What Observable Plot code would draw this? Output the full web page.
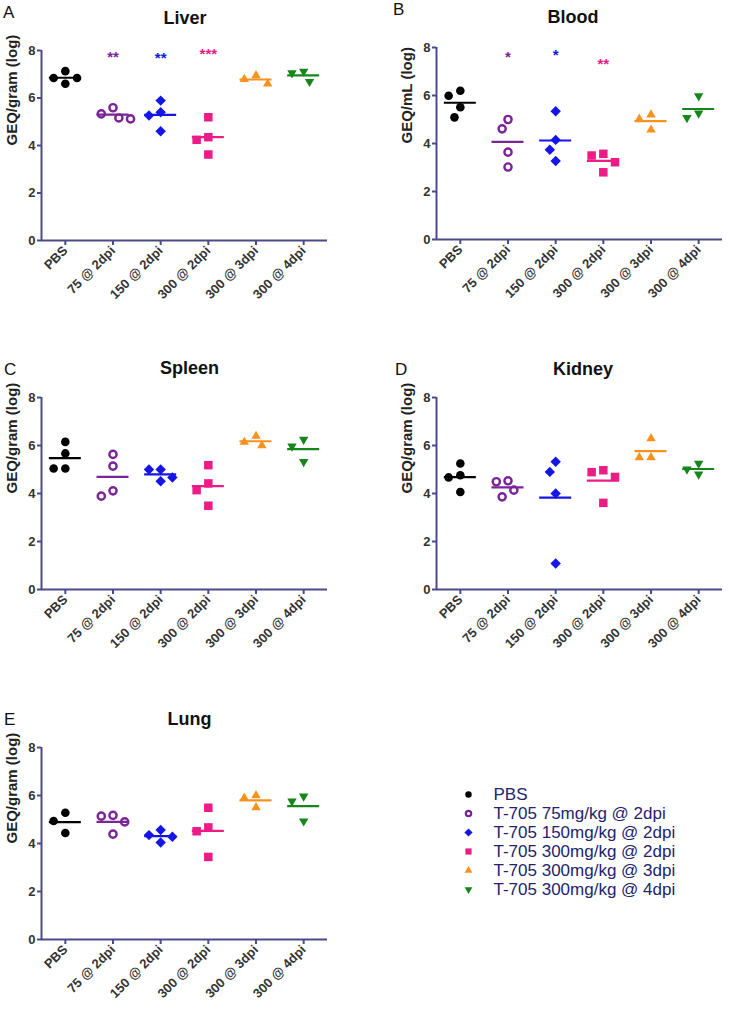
<!DOCTYPE html>
<html><head><meta charset="utf-8">
<script src="https://cdn.jsdelivr.net/npm/d3@7"></script>
<script src="https://cdn.jsdelivr.net/npm/@observablehq/plot@0.6"></script>
<style>
body{margin:0;background:#fff;}
#wrap{position:relative;width:729px;height:1020px;overflow:hidden;font-family:"Liberation Sans",Arial,sans-serif;}
.panel{position:absolute;}
.letter{position:absolute;font-size:17px;line-height:17px;color:#111;white-space:nowrap;}
.title{position:absolute;font-size:18px;line-height:18px;font-weight:bold;color:#111;transform:translateX(-50%);white-space:nowrap;}
</style></head><body><div id="wrap"></div>
<script>
// ---------- data ----------
const groups = ["PBS", "75 @ 2dpi", "150 @ 2dpi", "300 @ 2dpi", "300 @ 3dpi", "300 @ 4dpi"];
const legendLabels = ["PBS", "T-705 75mg/kg @ 2dpi", "T-705 150mg/kg @ 2dpi", "T-705 300mg/kg @ 2dpi", "T-705 300mg/kg @ 3dpi", "T-705 300mg/kg @ 4dpi"];
const colors = ["#000000", "#7b2497", "#1515e6", "#ec1c86", "#f7921e", "#17861a"];
const yTicks = [0, 2, 4, 6, 8];

const liver  = [[7.13, 6.84, 6.84, 6.60], [5.59, 5.33, 5.16, 5.12], [5.89, 5.40, 5.26, 4.60], [5.19, 4.35, 4.24, 3.62], [6.95, 6.79, 6.60], [7.12, 7.05, 6.69]];
const blood  = [[6.20, 5.99, 5.51, 5.09], [5.00, 4.61, 3.64, 3.02], [5.34, 4.15, 3.74, 3.27], [3.57, 3.50, 3.22, 2.80], [5.20, 5.02, 4.57], [5.98, 5.26, 5.07]];
const spleen = [[6.15, 5.67, 5.04, 5.04], [5.63, 5.14, 4.11, 3.89], [5.00, 5.00, 4.67, 4.51], [5.18, 4.42, 4.14, 3.49], [6.39, 6.14, 6.00], [6.25, 5.97, 5.32]];
const kidney = [[5.25, 4.76, 4.67, 4.06], [4.53, 4.49, 4.14, 3.86], [5.32, 4.90, 4.00, 1.08], [4.97, 4.89, 4.69, 3.61], [6.29, 5.50, 5.50], [5.25, 5.01, 4.80]];
const lung   = [[5.28, 4.94, 4.44], [5.17, 5.14, 4.90, 4.39], [4.56, 4.35, 4.28, 4.04], [5.49, 4.67, 4.51, 3.44], [6.00, 5.90, 5.50], [5.97, 5.76, 4.93]];

const liverSig = [{g: 1, label: "**", y: 7.86}, {g: 2, label: "**", y: 7.82}, {g: 3, label: "***", y: 8.0}];
const bloodSig = [{g: 1, label: "*", y: 7.76}, {g: 2, label: "*", y: 7.83}, {g: 3, label: "**", y: 7.47}];

// ---------- styling ----------
const navy = "#4a4a8a";
const font = "Liberation Sans, Arial, sans-serif";
const triangleDown = {
  draw(context, size) {
    const s3 = Math.sqrt(3);
    const y = -Math.sqrt(size / (s3 * 3));
    context.moveTo(0, -y * 2);
    context.lineTo(-s3 * y, y);
    context.lineTo(s3 * y, y);
    context.closePath();
  }
};
const markerStyles = [
  {symbol: "circle", fill: colors[0], r: 4.3},
  {symbol: "circle", fill: "none", stroke: colors[1], strokeWidth: 2.4, r: 3.6},
  {symbol: "diamond2", fill: colors[2], r: 4.7},
  {symbol: "square", fill: colors[3], r: 4.8},
  {symbol: "triangle", fill: colors[4], r: 3.5},
  {symbol: triangleDown, fill: colors[5], r: 3.5}
];
const legendStyles = [
  {symbol: "circle", fill: colors[0], r: 3.2},
  {symbol: "circle", fill: "none", stroke: colors[1], strokeWidth: 2.2, r: 2.7},
  {symbol: "diamond2", fill: colors[2], r: 3.7},
  {symbol: "square", fill: colors[3], r: 3.5},
  {symbol: "triangle", fill: colors[4], r: 2.9},
  {symbol: triangleDown, fill: colors[5], r: 2.9}
];

const panels = [
  {letter: "A", title: "Liver",  ylab: "GEQ/gram (log)", data: liver,  sig: liverSig, axisX: 41,  yTop: 50,  yBottom: 240, titleX: 185,   titleBase: 24,  letterX: 3,   letterBase: 18},
  {letter: "B", title: "Blood",  ylab: "GEQ/mL (log)",   data: blood,  sig: bloodSig, axisX: 436, yTop: 47,  yBottom: 239, titleX: 573,   titleBase: 23,  letterX: 393, letterBase: 15},
  {letter: "C", title: "Spleen", ylab: "GEQ/gram (log)", data: spleen, sig: [],       axisX: 41,  yTop: 397, yBottom: 589, titleX: 189.5, titleBase: 374, letterX: 4,   letterBase: 375},
  {letter: "D", title: "Kidney", ylab: "GEQ/gram (log)", data: kidney, sig: [],       axisX: 436, yTop: 397, yBottom: 589, titleX: 583,   titleBase: 375, letterX: 395, letterBase: 375},
  {letter: "E", title: "Lung",   ylab: "GEQ/gram (log)", data: lung,   sig: [],       axisX: 41,  yTop: 747, yBottom: 939, titleX: 189.5, titleBase: 725, letterX: 4,   letterBase: 725}
];

// horizontal scatter layout (greedy, in pixels) so symbols don't overlap
function arrange(vals, pxPerUnit) {
  const h = 5.85, D = 10.5;
  const order = vals.map((v, i) => i).sort((a, b) => vals[b] - vals[a]);
  const placed = [], off = new Array(vals.length);
  for (const i of order) {
    const y = vals[i] * pxPerUnit;
    for (let k = 0; k < 40; k++) {
      const c = k === 0 ? 0 : (k % 2 ? -Math.ceil(k / 2) : Math.ceil(k / 2)) * h;
      if (placed.every(p => Math.hypot(p.x - c, p.y - y) >= D)) { off[i] = c; placed.push({x: c, y}); break; }
    }
  }
  return off;
}

const wrap = document.getElementById("wrap");
const plotW = 286, mL = 41, mR = 15, mT = 20, mB = 95;
const stepPx = plotW / groups.length;

for (const p of panels) {
  const pxPerUnit = (p.yBottom - p.yTop) / 8;
  const pts = [];
  p.data.forEach((vals, gi) => {
    const off = arrange(vals, pxPerUnit);
    vals.forEach((v, i) => pts.push({gi, value: v, x: gi + off[i] / stepPx}));
  });
  const means = p.data.map((vals, gi) => ({gi, mean: d3.mean(vals)}));
  const hw = 16 / stepPx;

  const marks = [
    Plot.ruleY([0], {x1: -0.5, x2: 5.5, stroke: navy, strokeWidth: 2}),
    Plot.ruleX([-0.5], {y1: 0, y2: 8, stroke: navy, strokeWidth: 2}),
    Plot.axisY({ticks: yTicks, tickSize: 4, tickPadding: 2, stroke: navy, strokeWidth: 2, fill: "#333", fontWeight: "bold", fontSize: 13, label: null}),
    Plot.axisX({ticks: d3.range(groups.length), tickFormat: i => groups[i], tickRotate: -45, tickSize: 5, tickPadding: 3, stroke: navy, strokeWidth: 2, fill: "#333", fontWeight: "bold", fontSize: 13, label: null}),
    Plot.text([p.ylab], {text: d => d, frameAnchor: "left", dx: -29, rotate: -90, fontSize: 15, fontWeight: "bold", fill: "#222"}),
    ...groups.map((g, gi) => Plot.dot(pts.filter(d => d.gi === gi), {x: "x", y: "value", ...markerStyles[gi]})),
    Plot.ruleY(means, {y: "mean", x1: d => d.gi - hw, x2: d => d.gi + hw, stroke: d => colors[d.gi], strokeWidth: 2.2}),
    Plot.text(p.sig, {x: "g", y: "y", text: "label", fill: d => colors[d.g], fontSize: 15, fontWeight: "bold", dy: 3.6})
  ];

  const svg = Plot.plot({
    width: mL + plotW + mR,
    height: mT + (p.yBottom - p.yTop) + mB,
    marginLeft: mL, marginRight: mR, marginTop: mT, marginBottom: mB,
    x: {domain: [-0.5, 5.5], axis: null},
    y: {domain: [0, 8], axis: null},
    color: {type: "identity"},
    style: {fontFamily: font, background: "transparent", overflow: "visible"},
    marks
  });
  svg.classList.add("panel");
  svg.style.left = (p.axisX - mL) + "px";
  svg.style.top = (p.yTop - mT) + "px";
  wrap.appendChild(svg);

  const t = document.createElement("div");
  t.className = "title";
  t.textContent = p.title;
  t.style.left = p.titleX + "px";
  t.style.top = (p.titleBase - 15.2) + "px";
  wrap.appendChild(t);

  const l = document.createElement("div");
  l.className = "letter";
  l.textContent = p.letter;
  l.style.left = p.letterX + "px";
  l.style.top = (p.letterBase - 14.4) + "px";
  wrap.appendChild(l);
}

// ---------- legend ----------
const legendData = legendLabels.map((label, gi) => ({label, gi}));
const legend = Plot.plot({
  width: 270, height: 142,
  marginLeft: 13, marginRight: 0, marginTop: 0, marginBottom: 0,
  y: {type: "point", domain: legendLabels, range: [14, 128], axis: null},
  style: {fontFamily: font, background: "transparent", overflow: "visible"},
  marks: [
    ...legendData.map(d => Plot.dot([d], {y: "label", frameAnchor: "left", ...legendStyles[d.gi]})),
    Plot.text(legendData, {y: "label", text: "label", frameAnchor: "left", dx: 25, textAnchor: "start", fontSize: 17, fill: "#23236e"})
  ]
});
legend.classList.add("panel");
legend.style.left = "455px";
legend.style.top = "770px";
wrap.appendChild(legend);
</script>
</body></html>
